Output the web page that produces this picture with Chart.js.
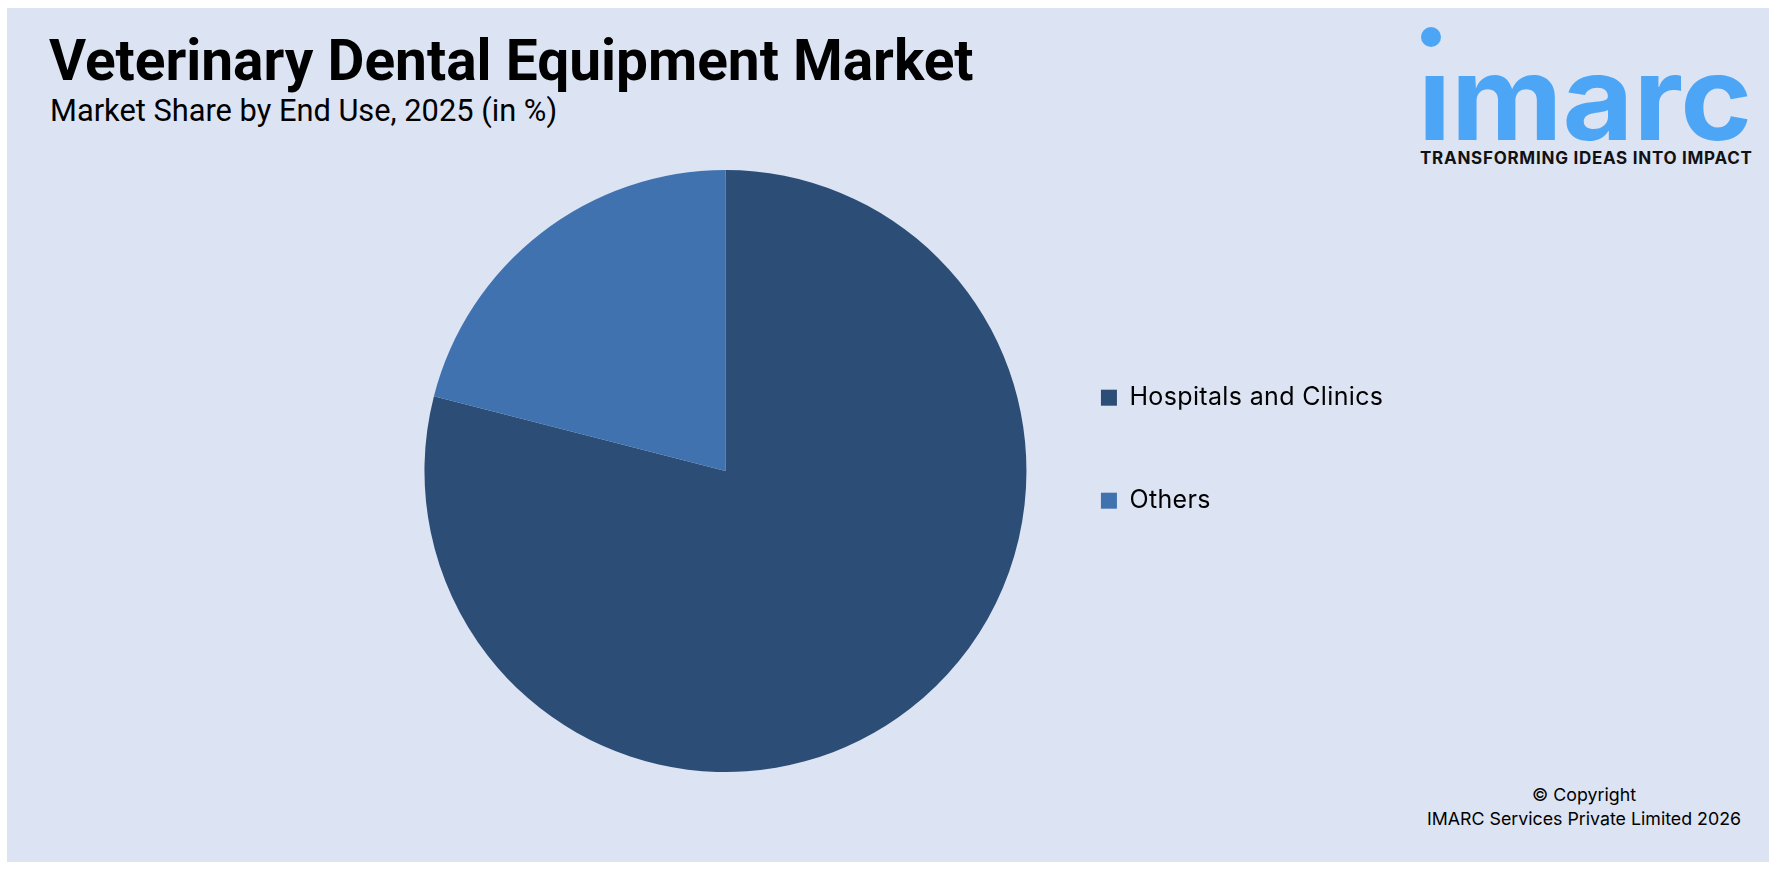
<!DOCTYPE html>
<html>
<head>
<meta charset="utf-8">
<title>Veterinary Dental Equipment Market</title>
<script src="https://cdn.jsdelivr.net/npm/chart.js@4"></script>
<style>
    html, body { margin: 0; background: #fff; width: 1776px; height: 870px; overflow: hidden; }
    #panel { position: absolute; left: 7px; top: 8px; width: 1762px; height: 854px; background: #dce3f2; }
    .txt { position: absolute; white-space: nowrap; color: #000; margin: 0; line-height: 1; }
    #title { left: 49px; top: 27px; font: 700 56.8px Roboto, sans-serif; }
    #subtitle { left: 50px; top: 92px; font: 400 30.8px Roboto, sans-serif; }
    #logo { position: absolute; left: 1400px; top: 15px; }
    #tagline { left: 1420px; top: 148px; font: 700 17px Inter, sans-serif; letter-spacing: 0.73px; color: #111; }
    #copy1, #copy2 { width: 400px; text-align: center; left: 1384px; font: 400 17.8px Inter, sans-serif; }
    #copy1 { top: 784px; }
    #copy2 { top: 808px; }
    #pie { position: absolute; left: 418px; top: 170px; }
</style>
</head>
<body>
<div id="panel"></div>
<h1 class="txt" id="title">Veterinary Dental Equipment Market</h1>
<p class="txt" id="subtitle">Market Share by End Use, 2025 (in %)</p>

<svg id="logo" width="370" height="135">
    <circle cx="31" cy="22" r="10" fill="#4da6f5"></circle>
    <text x="18" y="125" font-family="Inter" font-weight="700" font-size="117" fill="#4da6f5"
          textLength="334" lengthAdjust="spacingAndGlyphs">ımarc</text>
</svg>
<div class="txt" id="tagline">TRANSFORMING IDEAS INTO IMPACT</div>

<canvas id="pie" width="968" height="602"></canvas>

<div class="txt" id="copy1">© Copyright</div>
<div class="txt" id="copy2">IMARC Services Private Limited 2026</div>

<script>
    // Datos
    const categories = ['Hospitals and Clinics', 'Others'];
    const shares = [79, 21];
    const sliceColors = ['#2c4d75', '#4172b0'];

    // la leyenda del original va un poco mas espaciada
    const legendSpacing = {
        id: 'legendSpacing',
        beforeDraw: (chart) => { chart.ctx.letterSpacing = '0.35px'; }
    };

    new Chart(document.getElementById('pie'), {
        type: 'pie',
        data: {
            labels: categories,
            datasets: [{
                data: shares,
                backgroundColor: sliceColors,
                borderWidth: 0,
                clip: false
            }]
        },
        plugins: [legendSpacing],
        options: {
            responsive: false,
            animation: false,
            radius: 301,
            // margen para que el circulo no se corte en el borde del canvas
            layout: { padding: { left: 10 } },
            plugins: {
                tooltip: { enabled: false },
                legend: {
                    position: 'right',
                    align: 'start',
                    // el titulo vacio solo baja las filas de la leyenda
                    title: { display: true, text: ' ', font: { size: 1 }, padding: { top: 136, bottom: 0 } },
                    labels: {
                        boxWidth: 16,
                        boxHeight: 16,
                        padding: 78,
                        color: '#000',
                        font: { family: 'Inter', size: 25 }
                    }
                }
            }
        }
    });
</script>
</body>
</html>
